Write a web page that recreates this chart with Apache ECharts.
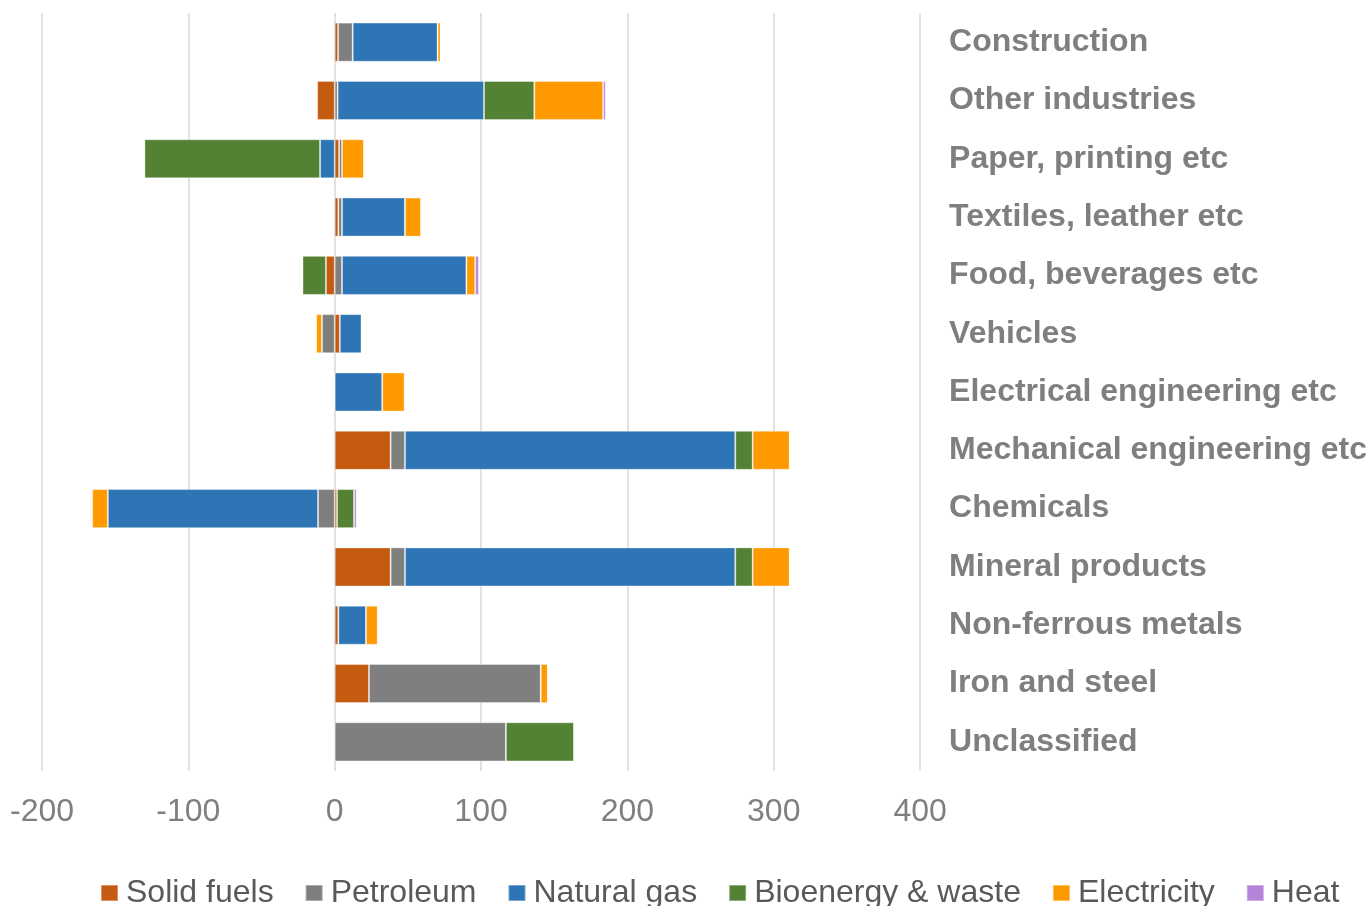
<!DOCTYPE html>
<html>
<head>
<meta charset="utf-8">
<title>Industry energy use change by fuel</title>
<script src="https://cdn.jsdelivr.net/npm/echarts@6/dist/echarts.min.js"></script>
<style>
  html, body { margin: 0; padding: 0; background: #ffffff; }
  #chart { width: 1370px; height: 906px; }
</style>
</head>
<body>
<div id="chart"></div>
<script>
// Industry sectors, listed top to bottom
const categories = [
  'Construction', 'Other industries', 'Paper, printing etc', 'Textiles, leather etc',
  'Food, beverages etc', 'Vehicles', 'Electrical engineering etc',
  'Mechanical engineering etc', 'Chemicals', 'Mineral products',
  'Non-ferrous metals', 'Iron and steel', 'Unclassified'
];

// Values per fuel, in category order
const solidFuels   = [2.3, -12, 3, 2.5, -6, 3.5, 0, 38.2, 1.6, 38.2, 2.5, 23.4, 0];
const petroleum    = [10, 2, 2, 2.5, 5, -8.7, 0, 9.8, -11.4, 9.8, 0, 117.4, 117];
const naturalGas   = [58, 100, -10, 43, 85, 14.8, 32.5, 225.7, -143.6, 225.7, 18.9, 0, 0];
const bioenergy    = [0, 34.4, -120, 0, -16, 0, 0, 11.9, 11.6, 11.9, 0, 0, 46.6];
const electricity  = [2, 47, 15, 11, 6, -4, 15.3, 25.3, -10.7, 25.3, 8, 4.8, 0];
const heat         = [0, 1.8, 0, 0, 2.5, 0, 0, 0, 1.8, 0, 0, 0, 0];

// Axis ticks
const axisMin = -200;
const axisMax = 400;
const axisStep = 100;

const seriesDefs = [
  { name: 'Solid fuels',       data: solidFuels,  color: '#C55A11' },
  { name: 'Petroleum',         data: petroleum,   color: '#7F7F7F' },
  { name: 'Natural gas',       data: naturalGas,  color: '#2E75B6' },
  { name: 'Bioenergy & waste', data: bioenergy,   color: '#548235' },
  { name: 'Electricity',       data: electricity, color: '#FF9900' },
  { name: 'Heat',              data: heat,        color: '#B584DA' }
];

const font = '"Liberation Sans", Arial, sans-serif';
const chart = echarts.init(document.getElementById('chart'), null, { renderer: 'canvas' });

chart.setOption({
  animation: false,
  backgroundColor: '#ffffff',
  grid: { left: 42, right: 449, top: 13, bottom: 135, containLabel: false },
  legend: {
    left: 100,
    top: 877,
    padding: 0,
    itemWidth: 17,
    itemHeight: 16,
    itemGap: 31,
    icon: 'rect',
    textStyle: { fontFamily: font, fontSize: 32, color: '#595959', padding: [0, 0, 0, 3] },
    data: seriesDefs.map(s => s.name)
  },
  xAxis: {
    type: 'value',
    min: axisMin,
    max: axisMax,
    interval: axisStep,
    axisLine: { show: false },
    axisTick: { show: false },
    splitLine: { show: true, lineStyle: { color: '#D9D9D9', width: 1.5 } },
    axisLabel: { fontFamily: font, fontSize: 32, color: '#7F7F7F', margin: 25 }
  },
  yAxis: {
    type: 'category',
    position: 'right',
    inverse: true,
    data: categories,
    axisLine: { show: false },
    axisTick: { show: false },
    axisLabel: {
      fontFamily: font,
      fontSize: 32,
      fontWeight: 'bold',
      color: '#7F7F7F',
      margin: 29,
      align: 'left',
      padding: [6, 0, 0, 0]
    }
  },
  series: seriesDefs.map(s => ({
    name: s.name,
    type: 'bar',
    stack: 'total',
    data: s.data,
    barCategoryGap: '33%',
    itemStyle: { color: s.color, borderColor: 'rgba(255,255,255,0.35)', borderWidth: 1 }
  }))
});
</script>
</body>
</html>
